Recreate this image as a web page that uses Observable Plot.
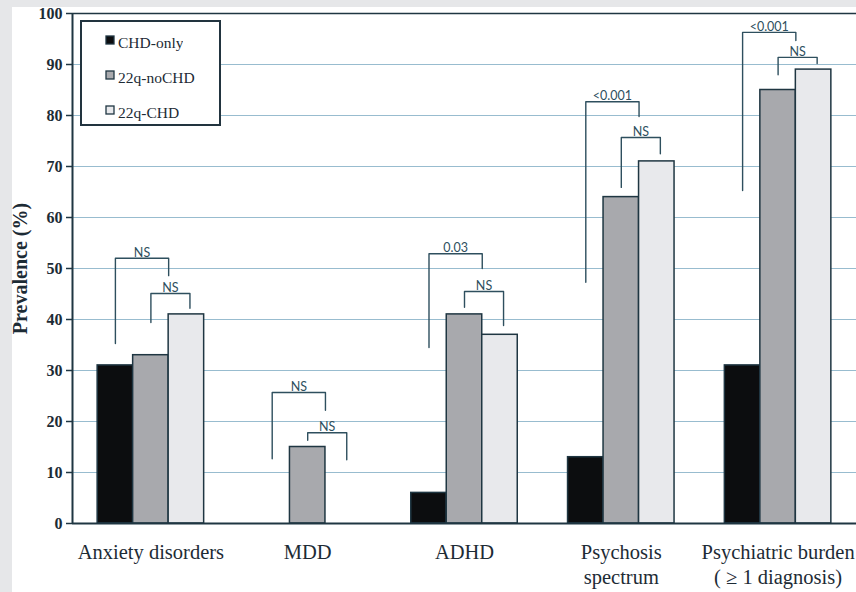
<!DOCTYPE html>
<html>
<head>
<meta charset="utf-8">
<script src="https://cdn.jsdelivr.net/npm/d3@7"></script>
<script src="https://cdn.jsdelivr.net/npm/@observablehq/plot@0.6"></script>
<style>
  body { margin: 0; background: #e6e7e9; }
  #wrap { position: relative; width: 856px; height: 592px; overflow: hidden; }
  #paper { position: absolute; left: 12px; top: 7px; right: 0; bottom: 0; background: #ffffff; }
  #chart { position: absolute; left: 0; top: 0; }
  #legendBox { position: absolute; left: 80px; top: 20px; width: 137px; height: 102px;
    border: 2px solid #22343f; background: #ffffff; }
  #legendBox .lg-swatches { margin: 0 !important; padding: 0 0 0 24px; position: relative; top: 3px;
    font-family: "Liberation Serif", "Times New Roman", serif !important; font-size: 15.5px !important; color: #1d2b35; }
  #legendBox .lg-swatch { height: 35px; display: flex; align-items: center; padding: 0 !important; }
  #legendBox .lg-swatch svg { margin-right: 4px !important; overflow: visible; position: relative; top: -3px; }
  #legendBox .lg-swatch svg rect { stroke: #1f3642; stroke-width: 1.3px; }
</style>
</head>
<body>
<div id="wrap">
  <div id="paper"></div>
  <div id="chart"></div>
  <div id="legendBox"></div>
</div>
<script>
// ---- data ----
const categories = ["Anxiety disorders", "MDD", "ADHD", "Psychosis spectrum", "Psychiatric burden"];
const categoryLabels = ["Anxiety disorders", "MDD", "ADHD", "Psychosis\nspectrum", "Psychiatric burden\n( \u2265 1 diagnosis)"];
const series = ["CHD-only", "22q-noCHD", "22q-CHD"];
const chdOnly = [31, 0, 6, 13, 31];
const noChd22q = [33, 15, 41, 64, 85];
const chd22q = [41, 0, 37, 71, 89];
const yTicks = [0, 10, 20, 30, 40, 50, 60, 70, 80, 90, 100];

// significance brackets (values in % units)
const outerLabel = ["NS", "NS", "0.03", "<0.001", "<0.001"];
const outerTop = [52.0, 25.7, 52.9, 82.7, 96.3];
const outerLeftEnd = [35.3, 12.7, 34.5, 47.3, 65.3];
const outerRightEnd = [48.6, 22.2, 50.0, 79.8, 94.7];
const innerLabel = ["NS", "NS", "NS", "NS", "NS"];
const innerTop = [45.1, 17.8, 45.5, 75.7, 91.4];
const innerLeftEnd = [39.4, 16.3, 42.4, 65.9, 88.0];
const innerRightEnd = [42.2, 12.5, 38.8, 72.5, 90.2];

// ---- styling ----
const colors = ["#0c0d0f", "#a8a9ad", "#e8e9ec"];
const serif = "'Liberation Serif', 'Times New Roman', serif";
const dark = "#1d2b35";
const lineDark = "#1f3642";
const bracketColor = "#2e4f5e";
const BAR = 0.2264; // bar width as a fraction of a category step

const seriesValues = [chdOnly, noChd22q, chd22q];
const rows = categories.flatMap((c, ci) => series.map((s, si) => ({ci, cat: c, series: s, si, value: seriesValues[si][ci]})));
const slot = (ci, u) => ci + 0.5 + (u - 1.5) * BAR; // u measured in bar widths from group start

const bracketPts = [];
const bracketLabels = [];
categories.forEach((c, ci) => {
  const defs = [
    {id: "o" + ci, l: 0.5, r: 2.0, top: outerTop[ci], le: outerLeftEnd[ci], re: outerRightEnd[ci], label: outerLabel[ci]},
    {id: "i" + ci, l: 1.5, r: 2.6, top: innerTop[ci], le: innerLeftEnd[ci], re: innerRightEnd[ci], label: innerLabel[ci]}
  ];
  for (const b of defs) {
    const xl = slot(ci, b.l), xr = slot(ci, b.r);
    bracketPts.push({id: b.id, x: xl, y: b.le}, {id: b.id, x: xl, y: b.top}, {id: b.id, x: xr, y: b.top}, {id: b.id, x: xr, y: b.re});
    bracketLabels.push({x: (xl + xr) / 2, y: b.top, label: b.label});
  }
});

const chart = Plot.plot({
  width: 856,
  height: 592,
  marginLeft: 72,
  marginRight: 0,
  marginTop: 13,
  marginBottom: 69,
  style: {background: "transparent", overflow: "visible", color: dark},
  x: {domain: [0, 5], axis: null},
  y: {domain: [0, 100]},
  color: {domain: series, range: colors},
  marks: [
    Plot.ruleY(yTicks.filter(t => t > 0 && t < 100), {stroke: "#98bccf", strokeWidth: 1.2}),
    Plot.ruleY([100], {stroke: lineDark, strokeWidth: 1.6}),
    Plot.rectY(rows, {
      x1: d => slot(d.ci, d.si),
      x2: d => slot(d.ci, d.si + 1),
      y1: 0,
      y2: "value",
      fill: "series",
      stroke: lineDark,
      strokeWidth: 1.5
    }),
    Plot.ruleY([0], {stroke: lineDark, strokeWidth: 2}),
    Plot.ruleX([0], {stroke: lineDark, strokeWidth: 2}),
    Plot.axisY({ticks: yTicks, tickSize: 6, tickPadding: 4, label: null, fontSize: 16, fontWeight: "bold",
      fontFamily: serif, stroke: lineDark, fill: dark, strokeWidth: 1.5}),
    Plot.line(bracketPts, {x: "x", y: "y", z: "id", stroke: bracketColor, strokeWidth: 1.4}),
    Plot.text(bracketLabels, {x: "x", y: "y", text: "label", lineAnchor: "bottom", dy: -1.5,
      fontFamily: "Lato, 'Open Sans', sans-serif", fontSize: 12.5, fill: bracketColor}),
    Plot.text(categoryLabels, {x: (d, i) => i + 0.5, frameAnchor: "bottom", lineAnchor: "top", dy: 18,
      fontFamily: serif, fontSize: 20.5, lineHeight: 1.22, fill: dark}),
    Plot.text(["Prevalence (%)"], {frameAnchor: "left", textAnchor: "middle", rotate: -90, dx: -52, fontFamily: serif,
      fontSize: 20, fontWeight: "bold", fill: dark})
  ]
});
document.getElementById("chart").appendChild(chart);

const legend = Plot.legend({
  color: {domain: series, range: colors},
  legend: "swatches",
  columns: 1,
  swatchSize: 8,
  className: "lg"
});
document.getElementById("legendBox").appendChild(legend);
</script>
</body>
</html>
